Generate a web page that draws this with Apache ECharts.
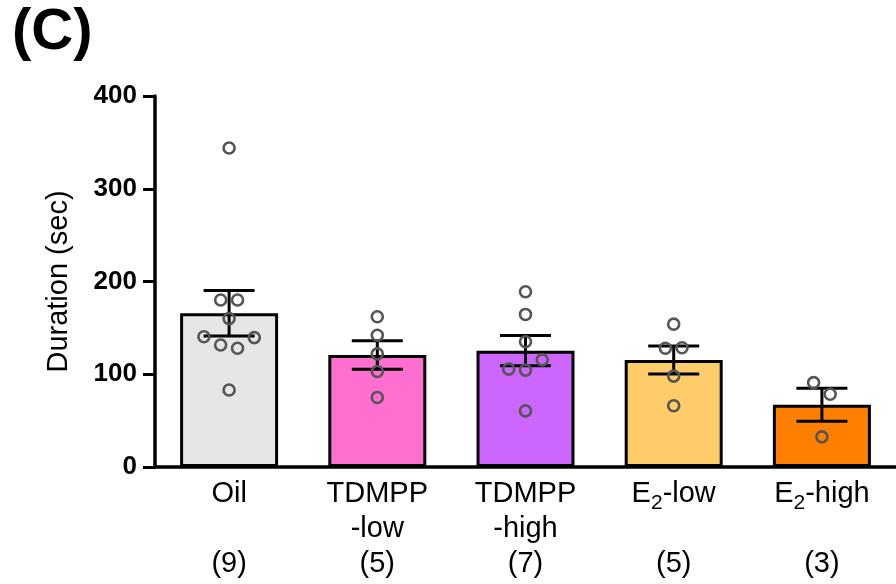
<!DOCTYPE html>
<html>
<head>
<meta charset="utf-8">
<title>Duration</title>
<script src="https://cdn.jsdelivr.net/npm/echarts@6/dist/echarts.min.js"></script>
<style>
  html, body { margin: 0; padding: 0; background: #ffffff; }
  #chart { width: 896px; height: 584px; }
</style>
</head>
<body>
<div id="chart"></div>
<script>
// Treatment groups (E2 written with a subscript) and animals per group
const groupNames = ['Oil', 'TDMPP\n-low', 'TDMPP\n-high', 'E{sub|2}-low', 'E{sub|2}-high'];
const groupSizes = [9, 5, 7, 5, 3];

// Group mean duration (sec) and standard error of the mean
const meanDuration = [165.7, 120.8, 125.4, 115.4, 67.2];
const semDuration = [24.5, 15.3, 16.3, 15.0, 17.8];

// Individual animals (sec)
const oilValues = [344, 180, 180, 160, 140.5, 139.5, 131.5, 128, 83];
const tdmppLowValues = [162, 142, 122, 103, 75];
const tdmppHighValues = [189, 164.5, 135, 115.5, 105.5, 104.5, 60.5];
const e2LowValues = [154, 128, 128.5, 98, 66];
const e2HighValues = [91, 78.5, 32.5];

// Horizontal spread of overlapping dots, in fractions of a category
const oilSpread = [0, -0.057, 0.057, 0, -0.17, 0.17, -0.057, 0.057, 0];
const tdmppLowSpread = [0, 0, 0, 0, 0];
const tdmppHighSpread = [0, 0, 0, 0.113, -0.113, 0, 0];
const e2LowSpread = [0, -0.056, 0.056, 0, 0];
const e2HighSpread = [-0.056, 0.056, 0];

// Axis ticks
const yTicks = [0, 100, 200, 300, 400];

const barColors = ['#e6e6e6', '#ff6fcf', '#cc66ff', '#ffcc6a', '#ff8000'];
const FONT = '"Liberation Sans", Arial, Helvetica, sans-serif';

const groupValues = [oilValues, tdmppLowValues, tdmppHighValues, e2LowValues, e2HighValues];
const groupSpread = [oilSpread, tdmppLowSpread, tdmppHighSpread, e2LowSpread, e2HighSpread];

const dotData = [];
groupValues.forEach(function (vals, g) {
  vals.forEach(function (v, k) { dotData.push([g + groupSpread[g][k], v]); });
});

const barData = meanDuration.map(function (m, i) {
  return { value: m, itemStyle: { color: barColors[i] } };
});
const errorData = meanDuration.map(function (m, i) { return [i, m, semDuration[i]]; });

function categoryLabel(value, index) {
  const name = groupNames[index];
  const twoLines = name.indexOf('\n') >= 0 ? name : name + '\n ';
  return twoLines + '\n(' + groupSizes[index] + ')';
}

const chart = echarts.init(document.getElementById('chart'), null, { renderer: 'canvas' });

chart.setOption({
  animation: false,
  backgroundColor: '#ffffff',
  grid: { left: 155, right: 0, top: 96, bottom: 117 },
  graphic: [{
    type: 'text',
    left: 12,
    top: 4,
    style: { text: '(C)', font: 'bold 58px ' + FONT, fill: '#000000' }
  }],
  xAxis: [{
    type: 'category',
    data: groupNames,
    axisLine: { show: true, onZero: false, lineStyle: { color: '#000000', width: 3.5 } },
    axisTick: { show: false },
    axisLabel: {
      interval: 0,
      formatter: categoryLabel,
      color: '#000000',
      fontFamily: FONT,
      fontSize: 29,
      lineHeight: 35,
      margin: 9,
      rich: {
        sub: {
          fontSize: 21, lineHeight: 10, verticalAlign: 'top',
          padding: [17, 0, 0, 0], fontFamily: FONT, color: '#000000'
        }
      }
    },
    splitLine: { show: false }
  }, {
    type: 'value',
    min: -0.5,
    max: 4.5,
    show: false,
    axisLine: { onZero: false }
  }],
  yAxis: {
    type: 'value',
    min: yTicks[0],
    max: yTicks[yTicks.length - 1],
    interval: yTicks[1] - yTicks[0],
    name: 'Duration (sec)',
    nameLocation: 'middle',
    nameRotate: 90,
    nameGap: 82,
    nameTextStyle: { fontFamily: FONT, fontSize: 29, color: '#000000' },
    axisLine: { show: true, onZero: false, lineStyle: { color: '#000000', width: 3.5 } },
    axisTick: { show: true, length: 12, lineStyle: { color: '#000000', width: 3 } },
    axisLabel: {
      color: '#000000',
      fontFamily: FONT,
      fontWeight: 'bold',
      fontSize: 26,
      margin: 18
    },
    splitLine: { show: false }
  },
  series: [{
    type: 'bar',
    xAxisIndex: 0,
    data: barData,
    barWidth: 98,
    itemStyle: { borderColor: '#000000', borderWidth: 3 },
    z: 2
  }, {
    type: 'custom',
    xAxisIndex: 1,
    data: errorData,
    z: 3,
    renderItem: function (params, api) {
      const x = api.value(0);
      const m = api.value(1);
      const s = api.value(2);
      const hi = api.coord([x, m + s]);
      const lo = api.coord([x, m - s]);
      const half = 25.5;
      const st = { stroke: '#000000', lineWidth: 3 };
      return {
        type: 'group',
        children: [
          { type: 'line', shape: { x1: hi[0], y1: hi[1], x2: lo[0], y2: lo[1] }, style: st },
          { type: 'line', shape: { x1: hi[0] - half, y1: hi[1], x2: hi[0] + half, y2: hi[1] }, style: st },
          { type: 'line', shape: { x1: lo[0] - half, y1: lo[1], x2: lo[0] + half, y2: lo[1] }, style: st }
        ]
      };
    }
  }, {
    type: 'scatter',
    xAxisIndex: 1,
    data: dotData,
    symbol: 'circle',
    symbolSize: 11,
    itemStyle: { color: 'rgba(0,0,0,0)', borderColor: '#555555', borderWidth: 2.6, opacity: 1 },
    z: 4
  }]
});
</script>
</body>
</html>
